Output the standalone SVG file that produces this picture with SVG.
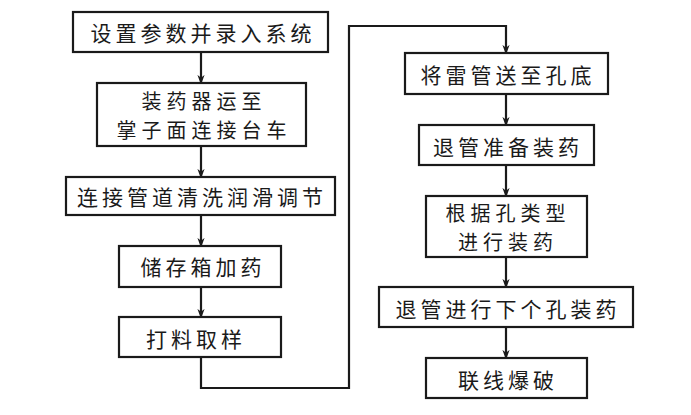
<svg xmlns="http://www.w3.org/2000/svg" width="691" height="415" viewBox="0 0 691 415">
<defs>
<marker id="ah" markerWidth="10" markerHeight="14" refX="10" refY="5" orient="auto" markerUnits="userSpaceOnUse" viewBox="0 0 14 10">
<path d="M0,0 L14,5 L0,10 L4,5 Z" fill="#1a1a1a"/>
</marker>
</defs>
<style>
.box{fill:#fff;stroke:#1a1a1a;stroke-width:2.2}
.t{font-family:"Noto Sans CJK SC","Noto Sans CJK JP",sans-serif;font-size:21px;fill:#1a1a1a;text-anchor:middle;dominant-baseline:central;letter-spacing:4px}
.t2{font-size:20px;letter-spacing:5px}
.c{fill:none;stroke:#1a1a1a;stroke-width:2.2}
</style>
<rect width="691" height="415" fill="#fff"/>
<g id="connectors">
<path class="c" d="M201,52 V82" marker-end="url(#ah)"/>
<path class="c" d="M201,146 V176" marker-end="url(#ah)"/>
<path class="c" d="M201,215 V245" marker-end="url(#ah)"/>
<path class="c" d="M201,287 V316" marker-end="url(#ah)"/>
<path class="c" d="M201,357 V388 H349 V26 H506 V52" marker-end="url(#ah)"/>
<path class="c" d="M506,94 V124" marker-end="url(#ah)"/>
<path class="c" d="M506,165 V195" marker-end="url(#ah)"/>
<path class="c" d="M506,257 V286" marker-end="url(#ah)"/>
<path class="c" d="M506,327 V357" marker-end="url(#ah)"/>
</g>
<g id="n1"><rect class="box" x="73" y="12" width="255" height="40"/><text class="t" x="203" y="32">设置参数并录入系统</text></g>
<g id="n2"><rect class="box" x="97" y="83" width="209" height="63"/><text class="t t2" x="204" y="100">装药器运至</text><text class="t t2" x="204" y="129">掌子面连接台车</text></g>
<g id="n3"><rect class="box" x="66" y="177" width="269" height="38"/><text class="t" x="202" y="196">连接管道清洗润滑调节</text></g>
<g id="n4"><rect class="box" x="119" y="246" width="162" height="41"/><text class="t" x="203" y="266">储存箱加药</text></g>
<g id="n5"><rect class="box" x="119" y="317" width="162" height="40"/><text class="t" x="196" y="338">打料取样</text></g>
<g id="n6"><rect class="box" x="405" y="53" width="203" height="41"/><text class="t" x="508" y="74">将雷管送至孔底</text></g>
<g id="n7"><rect class="box" x="419" y="125" width="175" height="40"/><text class="t" x="508" y="146">退管准备装药</text></g>
<g id="n8"><rect class="box" x="426" y="196" width="161" height="61"/><text class="t t2" x="508" y="212">根据孔类型</text><text class="t t2" x="508" y="241">进行装药</text></g>
<g id="n9"><rect class="box" x="379" y="287" width="254" height="40"/><text class="t" x="508" y="308">退管进行下个孔装药</text></g>
<g id="n10"><rect class="box" x="426" y="358" width="161" height="40"/><text class="t" x="508" y="379">联线爆破</text></g>
</svg>
